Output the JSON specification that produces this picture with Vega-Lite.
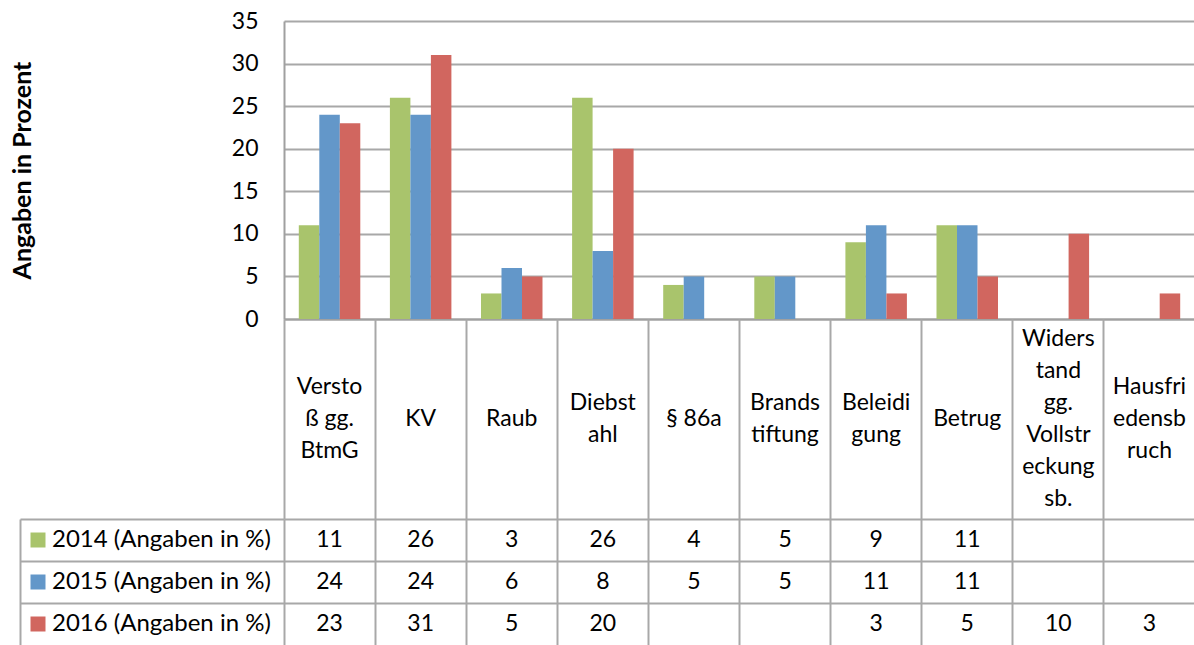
{
  "$schema": "https://vega.github.io/schema/vega-lite/v6.json",
  "padding": {"left": 10, "top": 10, "right": 0, "bottom": 0},
  "autosize": {"type": "pad"},
  "background": "white",
  "bounds": "flush",
  "spacing": 0,
  "config": {"font": "Lato", "view": {"stroke": null}},
  "datasets": {
    "cats": [
      {"cat": "Verstoß gg. BtmG", "label": "Versto\nß gg.\nBtmG"},
      {"cat": "KV", "label": "KV"},
      {"cat": "Raub", "label": "Raub"},
      {"cat": "Diebstahl", "label": "Diebst\nahl"},
      {"cat": "§ 86a", "label": "§ 86a"},
      {"cat": "Brandstiftung", "label": "Brands\ntiftung"},
      {"cat": "Beleidigung", "label": "Beleidi\ngung"},
      {"cat": "Betrug", "label": "Betrug"},
      {"cat": "Widerstand gg. Vollstreckungsb.", "label": "Widers\ntand\ngg.\nVollstr\neckung\nsb."},
      {"cat": "Hausfriedensbruch", "label": "Hausfri\nedensb\nruch"}
    ],
    "vals": [
      {"cat": "Verstoß gg. BtmG", "series": "2014 (Angaben in %)", "value": 11},
      {"cat": "KV", "series": "2014 (Angaben in %)", "value": 26},
      {"cat": "Raub", "series": "2014 (Angaben in %)", "value": 3},
      {"cat": "Diebstahl", "series": "2014 (Angaben in %)", "value": 26},
      {"cat": "§ 86a", "series": "2014 (Angaben in %)", "value": 4},
      {"cat": "Brandstiftung", "series": "2014 (Angaben in %)", "value": 5},
      {"cat": "Beleidigung", "series": "2014 (Angaben in %)", "value": 9},
      {"cat": "Betrug", "series": "2014 (Angaben in %)", "value": 11},
      {"cat": "Verstoß gg. BtmG", "series": "2015 (Angaben in %)", "value": 24},
      {"cat": "KV", "series": "2015 (Angaben in %)", "value": 24},
      {"cat": "Raub", "series": "2015 (Angaben in %)", "value": 6},
      {"cat": "Diebstahl", "series": "2015 (Angaben in %)", "value": 8},
      {"cat": "§ 86a", "series": "2015 (Angaben in %)", "value": 5},
      {"cat": "Brandstiftung", "series": "2015 (Angaben in %)", "value": 5},
      {"cat": "Beleidigung", "series": "2015 (Angaben in %)", "value": 11},
      {"cat": "Betrug", "series": "2015 (Angaben in %)", "value": 11},
      {"cat": "Verstoß gg. BtmG", "series": "2016 (Angaben in %)", "value": 23},
      {"cat": "KV", "series": "2016 (Angaben in %)", "value": 31},
      {"cat": "Raub", "series": "2016 (Angaben in %)", "value": 5},
      {"cat": "Diebstahl", "series": "2016 (Angaben in %)", "value": 20},
      {"cat": "Beleidigung", "series": "2016 (Angaben in %)", "value": 3},
      {"cat": "Betrug", "series": "2016 (Angaben in %)", "value": 5},
      {"cat": "Widerstand gg. Vollstreckungsb.", "series": "2016 (Angaben in %)", "value": 10},
      {"cat": "Hausfriedensbruch", "series": "2016 (Angaben in %)", "value": 3}
    ]
  },
  "resolve": {"scale": {"x": "independent", "y": "independent"}},
  "vconcat": [
    {
      "width": 911,
      "height": 298,
      "data": {"name": "vals"},
      "mark": {"type": "bar"},
      "encoding": {
        "x": {
          "field": "cat", "type": "nominal",
          "scale": {"type": "band", "domain": ["Verstoß gg. BtmG", "KV", "Raub", "Diebstahl", "§ 86a", "Brandstiftung", "Beleidigung", "Betrug", "Widerstand gg. Vollstreckungsb.", "Hausfriedensbruch"], "paddingInner": 0.325, "paddingOuter": 0.1625},
          "axis": {"title": null, "labels": false, "ticks": false, "grid": false, "domain": true, "domainColor": "#A0A0A0", "domainWidth": 2}
        },
        "xOffset": {
          "field": "series", "type": "nominal",
          "scale": {"domain": ["2014 (Angaben in %)", "2015 (Angaben in %)", "2016 (Angaben in %)"], "paddingInner": 0, "paddingOuter": 0}
        },
        "y": {
          "field": "value", "type": "quantitative",
          "scale": {"domain": [0, 35], "nice": false},
          "axis": {
            "values": [0, 5, 10, 15, 20, 25, 30, 35],
            "title": "Angaben in Prozent",
            "titleFont": "Lato", "titleFontWeight": "bold", "titleFontSize": 25, "titleColor": "black",
            "titleAngle": -90, "titleX": -262, "titleY": 149, "titleAlign": "center", "titleBaseline": "middle",
            "labelFont": "Lato", "labelFontSize": 23, "labelColor": "black", "labelPadding": 26,
            "ticks": false, "domainColor": "#A0A0A0", "domainWidth": 2,
            "grid": true, "gridColor": "#A8A8A8", "gridWidth": 2
          }
        },
        "color": {
          "field": "series", "type": "nominal",
          "scale": {"domain": ["2014 (Angaben in %)", "2015 (Angaben in %)", "2016 (Angaben in %)"], "range": ["#A9C46C", "#6397C9", "#D1665F"]},
          "legend": {
            "orient": "none", "legendX": -258, "legendY": 507, "title": null,
            "symbolType": "square", "symbolSize": 225, "symbolStrokeWidth": 0,
            "labelFont": "Lato", "labelFontSize": 24, "labelColor": "black", "labelOffset": 2,
            "rowPadding": 18, "padding": 0, "labelLimit": 400
          }
        }
      }
    },
    {
      "width": 911,
      "height": 200,
      "data": {"name": "cats"},
      "encoding": {
        "x": {
          "field": "cat", "type": "nominal",
          "scale": {"type": "band", "domain": ["Verstoß gg. BtmG", "KV", "Raub", "Diebstahl", "§ 86a", "Brandstiftung", "Beleidigung", "Betrug", "Widerstand gg. Vollstreckungsb.", "Hausfriedensbruch"], "paddingInner": 0, "paddingOuter": 0},
          "axis": {"title": null, "labels": false, "ticks": false, "domain": false, "grid": true, "bandPosition": 0, "gridColor": "#A8A8A8", "gridWidth": 2}
        },
        "text": {"field": "label", "type": "nominal"}
      },
      "layer": [
        {
          "transform": [{"filter": "length(split(datum.label, '\\n')) == 1"}],
          "mark": {"type": "text", "font": "Lato", "fontSize": 23, "lineHeight": 32, "lineBreak": "\n", "baseline": "middle", "align": "center", "color": "black", "dy": 0}
        },
        {
          "transform": [{"filter": "length(split(datum.label, '\\n')) == 2"}],
          "mark": {"type": "text", "font": "Lato", "fontSize": 23, "lineHeight": 32, "lineBreak": "\n", "baseline": "middle", "align": "center", "color": "black", "dy": -16}
        },
        {
          "transform": [{"filter": "length(split(datum.label, '\\n')) == 3"}],
          "mark": {"type": "text", "font": "Lato", "fontSize": 23, "lineHeight": 32, "lineBreak": "\n", "baseline": "middle", "align": "center", "color": "black", "dy": -32}
        },
        {
          "transform": [{"filter": "length(split(datum.label, '\\n')) == 6"}],
          "mark": {"type": "text", "font": "Lato", "fontSize": 23, "lineHeight": 32, "lineBreak": "\n", "baseline": "middle", "align": "center", "color": "black", "dy": -80}
        }
      ]
    },
    {
      "width": 911,
      "height": 126,
      "data": {"name": "vals"},
      "mark": {"type": "text", "font": "Lato", "fontSize": 23, "baseline": "middle", "align": "center", "color": "black"},
      "encoding": {
        "x": {
          "field": "cat", "type": "nominal",
          "scale": {"type": "band", "domain": ["Verstoß gg. BtmG", "KV", "Raub", "Diebstahl", "§ 86a", "Brandstiftung", "Beleidigung", "Betrug", "Widerstand gg. Vollstreckungsb.", "Hausfriedensbruch"], "paddingInner": 0, "paddingOuter": 0},
          "axis": {"title": null, "labels": false, "ticks": false, "domain": false, "grid": true, "bandPosition": 0, "gridColor": "#A8A8A8", "gridWidth": 2}
        },
        "y": {
          "field": "series", "type": "nominal",
          "scale": {"type": "band", "domain": ["2014 (Angaben in %)", "2015 (Angaben in %)", "2016 (Angaben in %)"], "paddingInner": 0, "paddingOuter": 0},
          "axis": {"title": null, "labels": false, "domain": true, "domainColor": "#A8A8A8", "domainWidth": 2, "offset": 264, "ticks": true, "tickSize": -264, "tickColor": "#A8A8A8", "tickWidth": 2, "bandPosition": 0, "grid": true, "gridColor": "#A8A8A8", "gridWidth": 2}
        },
        "text": {"field": "value", "type": "quantitative"}
      }
    }
  ]
}
